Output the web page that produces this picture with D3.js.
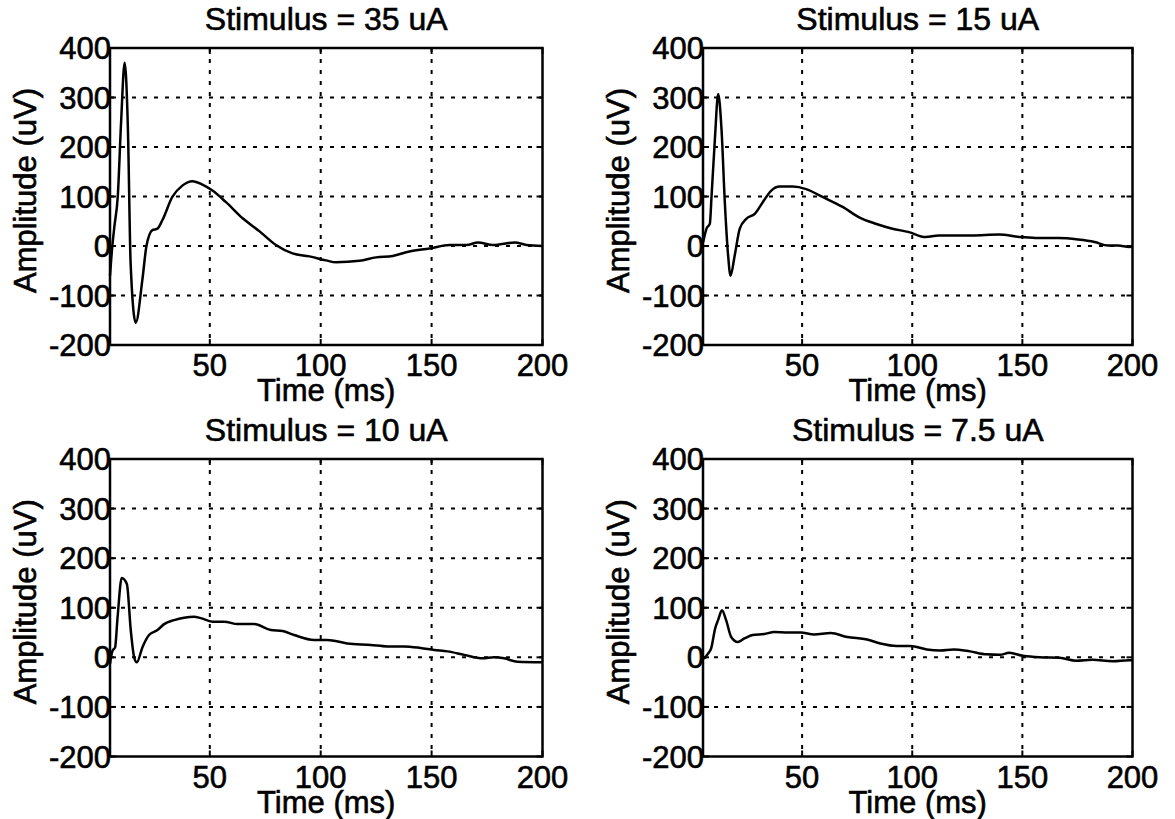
<!DOCTYPE html>
<html>
<head>
<meta charset="utf-8">
<script src="https://cdn.jsdelivr.net/npm/d3@7"></script>
<style>
  body { margin: 0; background: #fff; }
  text { font-family: "Liberation Sans", Arial, Helvetica, sans-serif; fill: #000; stroke: #000; stroke-width: 0.6px; }
</style>
</head>
<body>
<div id="container"></div>
<script>
// Data (time in ms, amplitude in uV)
const titles = ["Stimulus = 35 uA", "Stimulus = 15 uA", "Stimulus = 10 uA", "Stimulus = 7.5 uA"];
const xTicks = [50, 100, 150, 200];
const yTicks = [-200, -100, 0, 100, 200, 300, 400];
const xDomain = [5, 200];
const yDomain = [-200, 400];

const time35 = [5, 6, 7, 8.5, 10, 11.6, 13.1, 14.3, 16.6, 19.6, 21.4, 24.1, 26.4, 28.6, 33.1, 37.6, 42.2, 46.7, 51.2, 57.2, 64.8, 72.3, 79.8, 87.3, 94.9, 102.4, 106.9, 117.5, 125, 132.5, 140, 149.1, 158.1, 165.7, 170.9, 177.7, 187.5, 192.8, 200];
const amp35  = [-60, -2, 40, 100, 250, 370, 232, -35, -155, -68, -1, 32, 35, 52, 99, 122, 131, 124, 112, 89, 56, 30, 2, -15, -21, -29, -33, -30, -23, -20, -11, -5, 2, 2, 7, 2, 7, 2, 0];

const time15 = [5.1, 6.6, 8.1, 8.9, 10.4, 11.9, 13.4, 14.9, 16.4, 17.5, 19.4, 21.7, 24.7, 28.5, 32.2, 36, 39.8, 45.8, 51.8, 59.3, 68.4, 75.9, 83.4, 91, 98.5, 106, 112, 127.1, 139.2, 149.7, 157.2, 166.3, 175.3, 182.8, 188.9, 193.4, 198.6, 200];
const amp15  = [8, 35, 45, 102, 216, 307, 236, 89, -19, -60, -19, 35, 55, 65, 89, 112, 120, 120, 115, 99, 79, 58, 45, 35, 28, 18, 21, 21, 23, 18, 16, 16, 13, 8, 1, 1, -2, 0];

const time10 = [5, 6.1, 7.3, 8.4, 10.3, 12.6, 14.4, 15.9, 17.1, 19.6, 22.6, 26.4, 29.4, 33.9, 38.4, 42.9, 45.9, 51.2, 56.5, 62.5, 70, 77.5, 82.8, 88, 97, 103, 112, 122.6, 130, 137.6, 145, 151.2, 157.2, 164.7, 173, 178.2, 182.7, 188.7, 200];
const amp10  = [-13, 13, 20, 80, 160, 148, 53, 0, -10, 20, 45, 55, 67, 75, 80, 82, 79, 72, 72, 67, 67, 55, 53, 45, 35, 35, 28, 25, 22, 22, 19, 15, 12, 5, -2, 0, -2, -9, -10];

const time75 = [5.4, 7.2, 8.7, 10.5, 12, 13.6, 15.5, 17.8, 20.8, 23.8, 27.6, 32.8, 37.4, 43.4, 49.4, 55.4, 63, 70.5, 79.5, 85.5, 93, 99.1, 106.6, 112.7, 118.7, 126.2, 133.7, 139.8, 144, 150.3, 157.8, 166.9, 174.4, 181.9, 191, 198.5, 200];
const amp75  = [-3, 7, 18, 58, 77, 95, 75, 41, 31, 38, 45, 47, 51, 50, 50, 46, 49, 41, 36, 28, 23, 23, 16, 14, 16, 12, 6, 5, 9, 3, 0, -1, -7, -5, -8, -6, -6];

const series = [
  { title: titles[0], time: time35, amp: amp35 },
  { title: titles[1], time: time15, amp: amp15 },
  { title: titles[2], time: time10, amp: amp10 },
  { title: titles[3], time: time75, amp: amp75 }
];

const width = 1175, height = 819;
// panel boxes: [left, top, right, bottom]
const boxes = [
  [110, 48, 542.5, 345],
  [703, 48, 1132.5, 345],
  [110, 459, 542.5, 756.5],
  [703, 459, 1132.5, 756.5]
];

const svg = d3.select("#container")
  .append("svg")
  .attr("width", width)
  .attr("height", height);

series.forEach((s, i) => {
  const [l, t, r, b] = boxes[i];
  const x = d3.scaleLinear().domain(xDomain).range([l, r]);
  const y = d3.scaleLinear().domain(yDomain).range([b, t]);
  const g = svg.append("g");

  // grid
  g.selectAll("line.vgrid")
    .data(xTicks.filter((d) => d < xDomain[1]))
    .enter()
    .append("line")
    .attr("x1", (d) => x(d)).attr("x2", (d) => x(d))
    .attr("y1", t).attr("y2", b)
    .attr("stroke", "#000")
    .attr("stroke-width", 2)
    .attr("stroke-dasharray", "4,7");
  g.selectAll("line.hgrid")
    .data(yTicks.filter((d) => d > yDomain[0] && d < yDomain[1]))
    .enter()
    .append("line")
    .attr("x1", l).attr("x2", r)
    .attr("y1", (d) => y(d)).attr("y2", (d) => y(d))
    .attr("stroke", "#000")
    .attr("stroke-width", 2)
    .attr("stroke-dasharray", "4,7");

  // inside tick marks
  const tl = 6;
  yTicks.forEach((d) => {
    g.append("line").attr("x1", l).attr("x2", l + tl).attr("y1", y(d)).attr("y2", y(d)).attr("stroke", "#000").attr("stroke-width", 2);
    g.append("line").attr("x1", r).attr("x2", r - tl).attr("y1", y(d)).attr("y2", y(d)).attr("stroke", "#000").attr("stroke-width", 2);
  });
  xTicks.forEach((d) => {
    g.append("line").attr("x1", x(d)).attr("x2", x(d)).attr("y1", b).attr("y2", b - tl).attr("stroke", "#000").attr("stroke-width", 2);
    g.append("line").attr("x1", x(d)).attr("x2", x(d)).attr("y1", t).attr("y2", t + tl).attr("stroke", "#000").attr("stroke-width", 2);
  });

  // waveform
  const pts = s.time.map((tm, k) => [tm, s.amp[k]]);
  const line = d3.line()
    .x((d) => x(d[0]))
    .y((d) => y(d[1]))
    .curve(d3.curveMonotoneX);
  g.append("path")
    .datum(pts)
    .attr("d", line)
    .attr("fill", "none")
    .attr("stroke", "#000")
    .attr("stroke-width", 2.5)
    .attr("stroke-linejoin", "round");

  // box
  g.append("rect")
    .attr("x", l).attr("y", t)
    .attr("width", r - l).attr("height", b - t)
    .attr("fill", "none")
    .attr("stroke", "#000")
    .attr("stroke-width", 2.5);

  // tick labels
  g.selectAll("text.ytick")
    .data(yTicks)
    .enter()
    .append("text")
    .attr("x", l + 1)
    .attr("y", (d) => y(d) + 11)
    .attr("text-anchor", "end")
    .style("font-size", "31px")
    .text((d) => d);
  g.selectAll("text.xtick")
    .data(xTicks)
    .enter()
    .append("text")
    .attr("x", (d) => x(d))
    .attr("y", b + 31)
    .attr("text-anchor", "middle")
    .style("font-size", "31px")
    .text((d) => d);

  // labels
  g.append("text")
    .attr("x", (l + r) / 2)
    .attr("y", t - 18)
    .attr("text-anchor", "middle")
    .style("font-size", "32px")
    .text(s.title);
  g.append("text")
    .attr("x", (l + r) / 2)
    .attr("y", b + 56)
    .attr("text-anchor", "middle")
    .style("font-size", "31px")
    .text("Time (ms)");
  g.append("text")
    .attr("transform", `translate(${l - 74},${(t + b) / 2 - 6}) rotate(-90)`)
    .attr("text-anchor", "middle")
    .style("font-size", "31px")
    .text("Amplitude (uV)");
});
</script>
</body>
</html>
